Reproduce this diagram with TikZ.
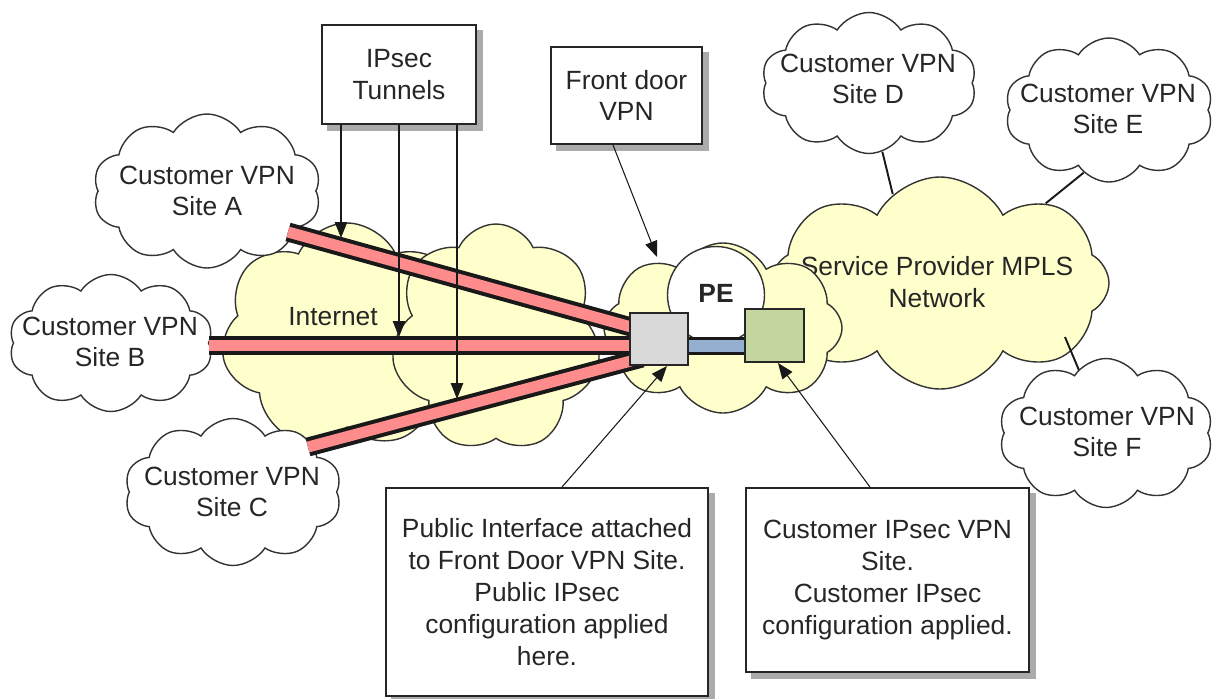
\documentclass[tikz,border=0pt]{standalone}
\usepackage{fontspec}
\setmainfont{Liberation Sans}
\usetikzlibrary{shapes.symbols,arrows.meta,calc,backgrounds}
\definecolor{cloudy}{HTML}{FFFFCC}
\definecolor{tunred}{HTML}{FF8C8C}
\definecolor{linkblue}{HTML}{93AECF}
\definecolor{pegreen}{HTML}{C4D6A0}
\definecolor{pegray}{HTML}{D9D9D9}
\definecolor{txtcol}{HTML}{262626}
\definecolor{shadowgray}{HTML}{ABABAB}
\begin{document}
\begin{tikzpicture}[x=0.02cm,y=-0.02cm,
  font=\fontsize{15}{18.1}\selectfont,
  sz/.style 2 args={minimum width=#1*0.02cm, minimum height=#2*0.02cm},
  cl/.style={cloud, cloud puffs=10, cloud puff arc=115, cloud ignores aspect, draw=black!80, line width=0.8pt, inner sep=0pt},
  sitecl/.style={cl, fill=white},
  netcl/.style={cl, fill=cloudy},
  txt/.style={align=center, text=txtcol, inner sep=0pt},
  box/.style={draw=black!85, line width=1.1pt, fill=white, align=center, text=txtcol, inner sep=0pt},
  shadowbox/.style={fill=shadowgray},
  arr/.style={-{Triangle[length=9pt,width=7pt]}, line width=0.6pt, draw=black!90},
  tunout/.style={line width=0.38cm, draw=black!90},
  tunin/.style={line width=0.22cm, draw=tunred},
  iface/.style={draw=black!85, line width=1.1pt, inner sep=0pt},
  sitelink/.style={line width=1.1pt, draw=black!90}
]
\useasboundingbox (0,0) rectangle (1215,698);

% Internet cloud
\node[netcl, cloud puffs=7, cloud puff arc=130, sz={252}{226}] (inet1) at (347,336) {};
\node[netcl, cloud puffs=7, cloud puff arc=130, sz={210}{228}] (inet2) at (496,338) {};
\node[txt] (inettxt) at (333,317) {Internet};

% MPLS and PE clouds
\node[netcl, cloud puffs=8, cloud puff arc=125, sz={338}{212}] (mpls) at (940,283) {};
\node[txt] (mplstxt) at (937,282) {Service Provider MPLS\\Network};
\node[netcl, cloud puffs=8, cloud puff arc=125, sz={238}{170}] (pecl) at (723,328) {};
\node[circle, draw=black!80, line width=0.8pt, fill=white, minimum size=97*0.02cm, inner sep=0pt] (pe) at (716,295) {};
\node[txt, font=\fontsize{15}{18.1}\selectfont\bfseries] (petxt) at (716,293) {PE};

% site F connector (under the cloud)
\coordinate (siteFc) at (1106,433);
\draw[sitelink] ($(siteFc)+(-25,-58)$) -- ($(mpls)+(125,54)$);

% Customer site clouds
\node[sitecl, sz={228}{154}] (siteA) at (207,191) {};
\node[txt] (siteAt) at (207,191) {Customer VPN\\Site A};
\node[sitecl, sz={204}{137}] (siteB) at (111,343) {};
\node[txt] (siteBt) at (110,342) {Customer VPN\\Site B};
\node[sitecl, sz={217}{147}] (siteC) at (233,492) {};
\node[txt] (siteCt) at (232,492) {Customer VPN\\Site C};
\node[sitecl, sz={215}{141}] (siteD) at (869,83) {};
\node[txt] (siteDt) at (868,79) {Customer VPN\\Site D};
\node[sitecl, sz={208}{144}] (siteE) at (1109,110) {};
\node[txt] (siteEt) at (1108,109) {Customer VPN\\Site E};
\node[sitecl, sz={214}{149}] (siteF) at (siteFc) {};
\node[txt] (siteFt) at (1107,432) {Customer VPN\\Site F};

% interface box positions
\coordinate (gboxc) at (659,339);
\coordinate (grboxc) at (774.5,335.5);

% tunnels
\coordinate (tA1) at (288,232);
\coordinate (tA2) at (642,330);
\coordinate (tB1) at (212,345);
\coordinate (tB2) at (642,345);
\coordinate (tC1) at (308,447);
\coordinate (tC2) at (642,358);
\draw[tunout] (tA1) -- (tA2);
\draw[tunin] (tA1) -- (tA2);
\draw[tunout] (tC1) -- (tC2);
\draw[tunin] (tC1) -- (tC2);
\draw[tunout] (siteB.east |- tB1) -- (tB2);
\draw[tunin] (siteB.east |- tB1) -- (tB2);
% link between interfaces
\coordinate (lk1) at (680,346);
\coordinate (lk2) at (752,346);
\draw[line width=0.37cm, draw=black!90] (lk1) -- (lk2);
\draw[line width=0.23cm, draw=linkblue] (lk1) -- (lk2);
% interface boxes
\node[iface, fill=pegray, sz={58}{52}] (gbox) at (gboxc) {};
\node[iface, fill=pegreen, sz={59}{53}] (grbox) at (grboxc) {};

% site connectors
\draw[sitelink] (siteD.-79) -- (mpls.118);
\draw[sitelink] (siteE.-112) -- (mpls.37);

% callout boxes
\node[box, sz={154}{99}] (ips) at (399,74.5) {IPsec\\Tunnels};
\node[box, sz={151}{97}] (fd) at (626.5,95.5) {Front door\\VPN};
\node[box, sz={322}{208}] (pub) at (547,592) {Public Interface attached\\to Front Door VPN Site.\\Public IPsec\\configuration applied\\here.};
\node[box, sz={283}{184}] (cust) at (887.5,580) {Customer IPsec VPN\\Site.\\Customer IPsec\\configuration applied.};
\begin{scope}[on background layer]
  \foreach \b in {ips,fd,pub,cust}{
    \fill[shadowbox] ($(\b.south west)+(6,6)$) rectangle ($(\b.north east)+(6,6)$);
  }
\end{scope}

% arrows
\coordinate (a1) at (341,238);
\coordinate (a2) at (399,337);
\coordinate (a3) at (457,399);
\draw[arr] (ips.south -| a1) -- (a1);
\draw[arr] (ips.south -| a2) -- (a2);
\draw[arr] (ips.south -| a3) -- (a3);
\coordinate (fdtip) at (657,257);
\draw[arr] ($(fd.south)+(-13.5,0)$) -- (fdtip);
\draw[arr] ($(pub.north)+(15,0)$) -- ($(gbox.south)+(8,0)$);
\draw[arr] ($(cust.north)+(-17.5,0)$) -- ($(grbox.south)+(3.5,0)$);
\end{tikzpicture}
\end{document}
